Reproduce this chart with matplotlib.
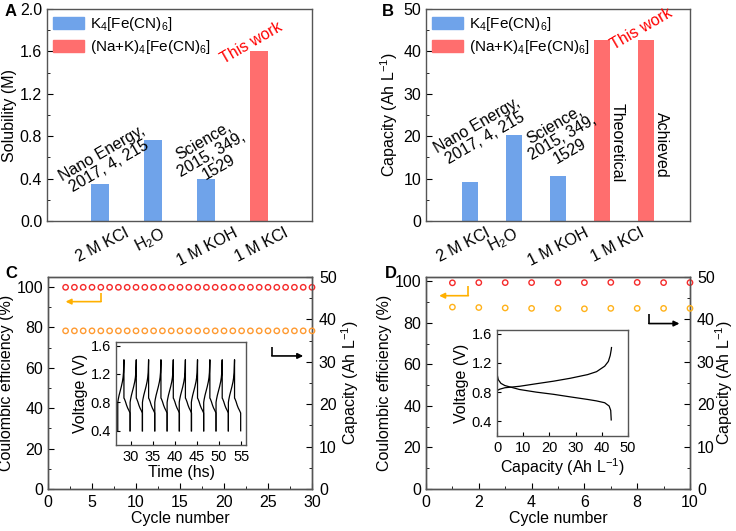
import numpy as np
import matplotlib
matplotlib.use("Agg")
import matplotlib.pyplot as plt
from matplotlib.ticker import MultipleLocator

plt.rcParams['font.family'] = ['Liberation Sans', 'DejaVu Sans']
plt.rcParams['mathtext.fontset'] = 'custom'
plt.rcParams['mathtext.rm'] = 'Liberation Sans'
plt.rcParams['mathtext.it'] = 'Liberation Sans:italic'
plt.rcParams['mathtext.default'] = 'regular'
plt.rcParams['xtick.direction'] = 'in'
plt.rcParams['ytick.direction'] = 'in'

# ---------------- data ----------------
# Panel A
a_pos = [1, 2, 3, 4]
a_vals = [0.35, 0.76, 0.40, 1.60]
a_colors_idx = [0, 0, 0, 1]
a_tick_pos = [1.05, 1.95, 3.02, 4.05]
a_labels = ['2 M KCl', 'H$_2$O', '1 M KOH', '1 M KCl']

# Panel B
b_pos = [1, 2, 3, 4, 5]
b_vals = [9.3, 20.3, 10.6, 42.7, 42.6]
b_colors_idx = [0, 0, 0, 1, 1]
b_tick_pos = [0.85, 1.75, 3.0, 4.35]
b_labels = ['2 M KCl', 'H$_2$O', '1 M KOH', '1 M KCl']

legend_labels = ['K$_4$[Fe(CN)$_6$]', '(Na+K)$_4$[Fe(CN)$_6$]']

# Panel C
c_cycles = list(range(2, 31))
c_ce = [99.9] * len(c_cycles)
c_cap = [37.3] * len(c_cycles)
# inset C: one cycle shape (time offset h, voltage V), and cycle start times
cyc_dt = [0.0, 0.0, 0.1, 0.3, 0.55, 0.8, 1.05, 1.2, 1.3, 1.4, 1.4, 1.5, 1.75, 2.0, 2.25, 2.5, 2.72, 2.79, 2.79]
cyc_v = [0.40, 0.80, 0.84, 0.90, 0.96, 1.02, 1.09, 1.15, 1.22, 1.40, 0.86, 0.85, 0.81, 0.76, 0.72, 0.69, 0.66, 0.65, 0.40]
cyc_start = [27.0, 29.8, 32.6, 35.4, 38.2, 40.95, 43.7, 46.5, 49.3, 52.1]

# Panel D
d_cycles = list(range(1, 11))
d_ce = [99.2, 99.3, 99.3, 99.3, 99.3, 99.3, 99.4, 99.4, 99.3, 99.3]
d_cap = [42.9, 42.8, 42.7, 42.6, 42.6, 42.5, 42.6, 42.6, 42.6, 42.6]
d_ch_cap = [0, 1, 3, 8.6, 15, 21.6, 28, 34.6, 38, 41.1, 42.5, 43.2, 43.6, 43.7]
d_ch_v = [0.82, 0.84, 0.86, 0.88, 0.915, 0.95, 0.99, 1.04, 1.08, 1.155, 1.22, 1.30, 1.38, 1.41]
d_dis_cap = [0, 0.5, 1.5, 3, 8.6, 15, 21.6, 28, 34.6, 38, 41.1, 42.8, 43.4, 43.6]
d_dis_v = [1.05, 0.97, 0.92, 0.89, 0.836, 0.80, 0.77, 0.735, 0.70, 0.68, 0.655, 0.61, 0.55, 0.42]

# arrow guides (left-axis data coords): corner x, corner y-top, corner y-bottom, tip x
c_arrow_left = [6.0, 97.2, 92.8, 2.0]
c_arrow_right = [25.45, 70.3, 65.9, 29.0]
d_arrow_left = [1.6, 97.9, 93.0, 0.5]
d_arrow_right = [8.45, 84.0, 79.6, 9.6]

BLUE = '#6fa3ea'
RED = '#ff6e6e'
bar_colors = [BLUE, RED]
CE_RED = '#f52a2a'
ORANGE_C = '#ff9a30'
ORANGE_D = '#ffb21a'
ARROW_OR = '#ffb000'

FS = 11.5
LFS = 11
fig = plt.figure(figsize=(7.36, 5.31), dpi=100)

def style_bar_axes(ax):
    ax.tick_params(axis='x', length=0, labelsize=FS, pad=3)
    ax.tick_params(axis='y', which='major', length=4, labelsize=FS, right=False)
    ax.tick_params(axis='y', which='minor', length=2.5, right=False)
    for s in ax.spines.values():
        s.set_color('#555555')
        s.set_linewidth(1.0)

def add_legend(ax, handles):
    ax.legend(handles, legend_labels, loc='upper left', frameon=False, fontsize=LFS,
              handlelength=2.0, handleheight=0.85, borderaxespad=0.1, borderpad=0.3,
              labelspacing=0.35, handletextpad=0.4)

# ---- Panel A ----
axA = fig.add_axes([47/736, 1-221/531, 265/736, 212/531])
axA.bar(a_pos, a_vals, width=0.35, color=[bar_colors[i] for i in a_colors_idx])
axA.set_xlim(0, 5)
axA.set_ylim(0, 2.0)
axA.yaxis.set_major_locator(MultipleLocator(0.4))
axA.yaxis.set_minor_locator(MultipleLocator(0.2))
axA.yaxis.set_major_formatter(matplotlib.ticker.FormatStrFormatter('%.1f'))
axA.set_xticks(a_tick_pos)
axA.set_xticklabels(a_labels, rotation=27, ha='center')
axA.set_ylabel('Solubility (M)', fontsize=FS, labelpad=2)
style_bar_axes(axA)
axA.text(1.1, 0.58, 'Nano Energy,\n2017, 4, 215', rotation=30, ha='center', va='center',
         rotation_mode='anchor', multialignment='center', fontsize=FS, linespacing=1.0)
axA.text(3.1, 0.63, 'Science,\n2015, 349,\n1529', rotation=30, ha='center', va='center',
         rotation_mode='anchor', multialignment='center', fontsize=FS, linespacing=1.0)
axA.text(3.85, 1.68, 'This work', rotation=30, ha='center', va='center', rotation_mode='anchor',
         color='red', fontsize=FS)
hA = [plt.Rectangle((0, 0), 1, 1, color=c) for c in bar_colors]
add_legend(axA, hA)
fig.text(5/736, 1-12/531, 'A', fontsize=12, fontweight='bold', va='center', ha='left')

# ---- Panel B ----
axB = fig.add_axes([426/736, 1-221/531, 264/736, 212/531])
axB.bar(b_pos, b_vals, width=0.38, color=[bar_colors[i] for i in b_colors_idx])
axB.set_xlim(0, 6)
axB.set_ylim(0, 50)
axB.yaxis.set_major_locator(MultipleLocator(10))
axB.yaxis.set_minor_locator(MultipleLocator(5))
axB.set_xticks(b_tick_pos)
axB.set_xticklabels(b_labels, rotation=27, ha='center')
axB.set_ylabel('Capacity (Ah L$^{-1}$)', fontsize=FS, labelpad=2)
style_bar_axes(axB)
axB.text(1.25, 21.0, 'Nano Energy,\n2017, 4, 215', rotation=30, ha='center', va='center',
         rotation_mode='anchor', multialignment='center', fontsize=FS, linespacing=1.0)
axB.text(3.1, 19.6, 'Science,\n2015, 349,\n1529', rotation=30, ha='center', va='center',
         rotation_mode='anchor', multialignment='center', fontsize=FS, linespacing=1.0)
axB.text(4.34, 18.4, 'Theoretical', rotation=-90, ha='center', va='center', fontsize=FS)
axB.text(5.36, 17.9, 'Achieved', rotation=-90, ha='center', va='center', fontsize=FS)
axB.text(4.89, 45.3, 'This work', rotation=30, ha='center', va='center', rotation_mode='anchor',
         color='red', fontsize=FS)
add_legend(axB, hA)
fig.text(382/736, 1-12/531, 'B', fontsize=12, fontweight='bold', va='center', ha='left')

def style_cycle_axes(ax, ax2, rpad=5):
    for a in (ax, ax2):
        for s in a.spines.values():
            s.set_color('#555555')
            s.set_linewidth(1.0)
    ax.tick_params(axis='both', which='major', length=4, labelsize=FS, top=False, right=False)
    ax.tick_params(axis='both', which='minor', length=2.5, top=False, right=False)
    ax.tick_params(axis='x', pad=4)
    ax2.tick_params(axis='y', which='major', length=4, labelsize=FS, pad=rpad)
    ax2.tick_params(axis='y', which='minor', length=2.5)

def draw_arrow(ax, spec, color):
    x0, y0, y1, xt = spec
    ax.plot([x0, x0], [y0, y1], color=color, lw=1.2, solid_capstyle='butt')
    ax.annotate('', xy=(xt, y1), xytext=(x0 + 0.005 * (x0 - xt), y1),
                arrowprops=dict(arrowstyle='-|>', color=color, lw=1.2,
                                mutation_scale=8, shrinkA=0, shrinkB=0))

def style_inset(ax):
    for s in ax.spines.values():
        s.set_color('#555555')
        s.set_linewidth(1.0)
    ax.tick_params(axis='both', which='major', length=3, labelsize=10.5, top=False, right=False)
    ax.tick_params(axis='both', which='minor', length=1.8, top=False, right=False)

MS = 15
# ---- Panel C ----
axC = fig.add_axes([48/736, 1-489/531, 264/736, 212/531])
axC2 = axC.twinx()
axC.scatter(c_cycles, c_ce, s=MS, facecolors='none', edgecolors=CE_RED, linewidths=1.0, zorder=3)
axC2.scatter(c_cycles, c_cap, s=MS, facecolors='none', edgecolors=ORANGE_C, linewidths=1.0, zorder=3)
axC.set_xlim(0, 30)
axC.set_ylim(0, 105)
axC2.set_ylim(0, 50)
axC.xaxis.set_major_locator(MultipleLocator(5))
axC.xaxis.set_minor_locator(MultipleLocator(2.5))
axC.yaxis.set_major_locator(MultipleLocator(20))
axC.yaxis.set_minor_locator(MultipleLocator(10))
axC2.yaxis.set_major_locator(MultipleLocator(10))
axC2.yaxis.set_minor_locator(MultipleLocator(5))
axC.set_xlabel('Cycle number', fontsize=FS, labelpad=1)
axC.set_ylabel('Coulombic efficiency (%)', fontsize=FS, labelpad=2)
axC2.set_ylabel('Capacity (Ah L$^{-1}$)', fontsize=FS, labelpad=2)
style_cycle_axes(axC, axC2)
draw_arrow(axC, c_arrow_left, ARROW_OR)
draw_arrow(axC, c_arrow_right, 'black')
for c in axC.collections + axC2.collections:
    c.set_clip_on(False)
fig.text(5/736, 1-273/531, 'C', fontsize=12, fontweight='bold', va='center', ha='left')

insC = fig.add_axes([116/736, 1-445/531, 130/736, 103/531])
for t0 in cyc_start:
    insC.plot([t0 + d for d in cyc_dt], cyc_v, color='black', lw=0.9)
insC.set_xlim(26.6, 56.1)
insC.set_ylim(0.2, 1.65)
insC.xaxis.set_major_locator(MultipleLocator(5))
insC.yaxis.set_major_locator(MultipleLocator(0.4))
insC.yaxis.set_major_formatter(matplotlib.ticker.FormatStrFormatter('%.1f'))
insC.set_xlabel('Time (hs)', fontsize=FS, labelpad=1)
insC.set_ylabel('Voltage (V)', fontsize=FS, labelpad=2)
style_inset(insC)

# ---- Panel D ----
axD = fig.add_axes([426/736, 1-489/531, 264/736, 212/531])
axD2 = axD.twinx()
axD.scatter(d_cycles, d_ce, s=MS, facecolors='none', edgecolors=CE_RED, linewidths=1.0, zorder=3)
axD2.scatter(d_cycles, d_cap, s=MS, facecolors='none', edgecolors=ORANGE_D, linewidths=1.0, zorder=3)
axD.set_xlim(0, 10)
axD.set_ylim(0, 102)
axD2.set_ylim(0, 50)
axD.xaxis.set_major_locator(MultipleLocator(2))
axD.xaxis.set_minor_locator(MultipleLocator(1))
axD.yaxis.set_major_locator(MultipleLocator(20))
axD.yaxis.set_minor_locator(MultipleLocator(10))
axD2.yaxis.set_major_locator(MultipleLocator(10))
axD2.yaxis.set_minor_locator(MultipleLocator(5))
axD.set_xlabel('Cycle number', fontsize=FS, labelpad=1)
axD.set_ylabel('Coulombic efficiency (%)', fontsize=FS, labelpad=2)
axD2.set_ylabel('Capacity (Ah L$^{-1}$)', fontsize=FS, labelpad=-1)
style_cycle_axes(axD, axD2, rpad=5)
draw_arrow(axD, d_arrow_left, ARROW_OR)
draw_arrow(axD, d_arrow_right, 'black')
for c in axD.collections + axD2.collections:
    c.set_clip_on(False)
fig.text(385/736, 1-273/531, 'D', fontsize=12, fontweight='bold', va='center', ha='left')

insD = fig.add_axes([497/736, 1-436/531, 131/736, 106/531])
insD.plot(d_ch_cap, d_ch_v, color='black', lw=0.9)
insD.plot(d_dis_cap, d_dis_v, color='black', lw=0.9)
insD.set_xlim(0, 50)
insD.set_ylim(0.2, 1.65)
insD.xaxis.set_major_locator(MultipleLocator(10))
insD.yaxis.set_major_locator(MultipleLocator(0.4))
insD.yaxis.set_major_formatter(matplotlib.ticker.FormatStrFormatter('%.1f'))
insD.set_xlabel('Capacity (Ah L$^{-1}$)', fontsize=FS, labelpad=1)
insD.set_ylabel('Voltage (V)', fontsize=FS, labelpad=2)
style_inset(insD)

fig.savefig('out.png', dpi=100)
